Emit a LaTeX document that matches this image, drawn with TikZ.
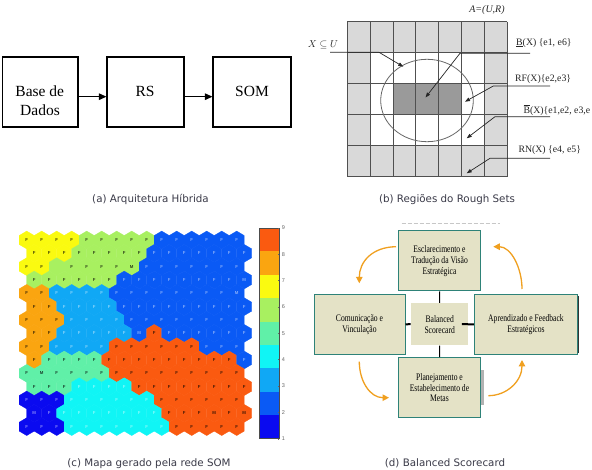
\documentclass[tikz,border=0pt]{standalone}
\usepackage{fontspec}
\usetikzlibrary{arrows.meta}
\newfontfamily\capfont{DejaVu Sans}
\newfontfamily\tnr{Liberation Serif}
\newfontfamily\tnrcond[FakeStretch=0.76]{Liberation Serif}
\newfontfamily\labfont{Liberation Sans}
\definecolor{som1}{HTML}{0A0AF0}
\definecolor{som2}{HTML}{0A5AF5}
\definecolor{som3}{HTML}{10A8F5}
\definecolor{som4}{HTML}{10F5F5}
\definecolor{som5}{HTML}{60F0A8}
\definecolor{som6}{HTML}{A8F060}
\definecolor{som7}{HTML}{FAFA10}
\definecolor{som8}{HTML}{FAA510}
\definecolor{som9}{HTML}{FA5A10}
\definecolor{capcol}{HTML}{3A3A48}
\definecolor{bscfill}{HTML}{E4E2C6}
\definecolor{bscedge}{HTML}{2E8278}
\definecolor{bscarrow}{HTML}{F0A020}
\definecolor{rsgray}{HTML}{D9D9D9}
\definecolor{rsdark}{HTML}{9A9A9A}
\definecolor{rsline}{HTML}{505050}
\tikzset{
 abox/.style={draw=black, line width=1.1pt, minimum height=70pt, inner sep=0pt},
 atext/.style={font=\tnr\fontsize{15.5}{18}\selectfont, inner sep=0pt},
 aarrow/.style={draw=black, line width=1.1pt, -{Triangle[length=7.5pt,width=6.5pt]}},
 captext/.style={font=\capfont\fontsize{10.3}{12}\selectfont, text=capcol, inner sep=0pt},
 rsgrid/.style={draw=rsline, line width=0.8pt},
 leader/.style={draw=black!85, line width=0.7pt, -{Triangle[length=5pt,width=3.6pt]}},
 rstext/.style={font=\tnr\fontsize{9.8}{11}\selectfont, inner sep=0pt, text=black!85},
 hexlab/.style={font=\labfont\bfseries\fontsize{4.3}{5}\selectfont, inner sep=0pt},
 cblab/.style={font=\labfont\fontsize{5.5}{6}\selectfont, text=black!60, inner sep=0pt, anchor=west},
 bscbox/.style={draw=bscedge, line width=1pt, fill=bscfill, minimum height=60pt, inner sep=0pt, align=center, font=\tnrcond\fontsize{10}{10.8}\selectfont},
 bscline/.style={draw=black, line width=1.1pt},
 bscarr/.style={draw=bscarrow, line width=1.3pt, -{Triangle[length=6.5pt,width=6.5pt]}},
}
\begin{document}
\begin{tikzpicture}[x=1pt,y=-1pt]
\useasboundingbox (0,0) rectangle (592,470);
\fill[white] (0,0) rectangle (592,470);

% ---------- (a) ----------
\node[abox, minimum width=75.3pt] (db) at (40.3,92) {};
\node[abox, minimum width=77pt] (rs) at (145.5,92) {};
\node[abox, minimum width=78pt] (som) at (252,92) {};
\node[atext, anchor=base] (dbt1) at (39.8,96.5) {Base de};
\node[atext, anchor=base] (dbt2) at (40,115.7) {Dados};
\node[atext, anchor=base] (rst) at (145,96.5) {RS};
\node[atext, anchor=base] (somt) at (252,96.5) {SOM};
\draw[aarrow] ([yshift=-4.7pt]db.east) -- ([yshift=-4.7pt]rs.west);
\draw[aarrow] ([yshift=-4.7pt]rs.east) -- ([yshift=-4.7pt]som.west);
\node[captext] (capa) at (150.5,199.5) {(a) Arquitetura Híbrida};

% ---------- (b) ----------
\fill[rsgray] (347.3,21.7) rectangle (507.3,176.7);
\fill[white] (370.2,52.7) rectangle (484.4,145.7);
\fill[rsdark] (392.9,83.7) rectangle (461.4,114.7);
\foreach \i in {0,...,7} \draw[rsgrid] ({347.3+22.857*\i},21.7) -- ({347.3+22.857*\i},176.7);
\foreach \j in {0,...,5} \draw[rsgrid] (347.3,{21.7+31*\j}) -- (507.3,{21.7+31*\j});
\draw[rsline, line width=1.2pt] (347.3,176.7) -- (507.3,176.7);
\draw[draw=black!60, line width=0.8pt] (427,100.5) ellipse [x radius=46.3, y radius=41.2];
\coordinate (xu1) at (330,52.3); \coordinate (xu2) at (379,52.3); \coordinate (xu3) at (403.3,66.7);
\coordinate (bl1) at (530,53.3); \coordinate (bl2) at (460,53.3); \coordinate (bl3) at (425.5,97.5);
\coordinate (rf1) at (550,86); \coordinate (rf2) at (493.3,86); \coordinate (rf3) at (465,101.7);
\coordinate (bu1) at (550,116.7); \coordinate (bu2) at (495,116.7); \coordinate (bu3) at (466.7,138.3);
\coordinate (rn1) at (550,158.3); \coordinate (rn2) at (490,158.3); \coordinate (rn3) at (466.7,173.3);
\draw[leader] (xu1) -- (xu2) -- (xu3);
\draw[leader] (bl1) -- (bl2) -- (bl3);
\draw[leader] (rf1) -- (rf2) -- (rf3);
\draw[leader] (bu1) -- (bu2) -- (bu3);
\draw[leader] (rn1) -- (rn2) -- (rn3);
\node[rstext, font=\tnr\itshape\fontsize{10}{11}\selectfont] (aur) at (487,10) {A=(U,R)};
\node[rstext, font=\fontsize{10}{11}\selectfont] (xsu) at (323,45) {$X\subseteq U$};
\node[rstext, anchor=west] (lbl) at (516,42.7) {\underline{B}(X) \{e1, e6\}};
\node[rstext, anchor=west] (rfl) at (515,79.3) {RF(X)\{e2,e3\}};
\node[rstext, anchor=west] (ubl) at (523.3,110) {$\overline{\mbox{B}}$(X)\{e1,e2, e3,e};
\node[rstext, anchor=west] (rnl) at (518.3,150) {RN(X) \{e4, e5\}};
\node[captext] (capb) at (447,200) {(b) Regiões do Rough Sets};

% ---------- (c) ----------
\foreach \row [count=\r] in {
{7/F,7/F,7/F,7/F,6/F,6/F,6/F,6/F,6/F,2/F,2/F,2/F,2/F,2/F,2/F},
{7/F,7/F,7/F,6/F,6/F,6/F,6/F,6/F,2/F,2/F,2/F,2/F,2/F,2/F,2/F},
{7/F,7/F,6/N,6/F,6/F,6/F,6/F,6/M,2/F,2/F,2/F,2/F,2/F,2/F,2/F},
{6/F,6/F,6/F,6/F,6/F,6/F,2/F,2/F,2/F,2/F,2/F,2/F,2/F,2/F,2/M},
{8/F,8/F,3/F,3/F,3/F,3/F,2/F,2/F,2/F,2/F,2/F,2/F,2/F,2/F,2/M},
{8/F,8/F,3/F,3/F,3/F,3/F,2/F,2/F,2/F,2/F,2/F,2/F,2/F,2/F,2/F},
{8/F,8/F,8/F,3/F,3/F,3/F,3/F,2/F,2/F,2/F,2/F,2/F,2/F,2/F,2/F},
{8/F,8/F,3/F,3/F,3/F,3/F,3/F,2/M,9/F,2/F,2/F,2/F,2/F,2/F,2/F},
{8/F,8/F,3/F,3/F,3/F,3/F,9/F,9/F,9/F,9/F,9/F,9/F,2/F,2/F,2/F},
{8/F,5/F,5/F,5/F,5/F,9/F,9/F,9/F,9/F,9/F,9/F,9/F,9/F,9/F,2/F},
{5/F,5/M,5/F,5/F,5/F,5/F,9/F,9/F,9/F,9/F,9/F,9/F,9/F,9/F,9/F},
{5/F,5/F,5/F,4/F,4/F,4/F,4/F,9/F,9/F,9/F,9/F,9/F,9/F,9/F,9/F},
{1/F,1/F,1/F,4/F,4/F,4/F,4/F,4/F,4/F,9/F,9/F,9/F,9/F,9/F,9/F},
{1/M,1/F,4/F,4/F,4/F,4/F,4/F,4/F,4/F,9/F,9/F,9/F,9/M,9/F,9/M},
{1/F,1/F,1/F,4/F,4/F,4/F,4/F,4/F,4/F,4/F,9/F,9/F,9/F,9/F,9/F}}{
 \foreach \k/\l [count=\c] in \row {
  \pgfmathsetmacro\hx{26.7+15*(\c-1)+7.5*(1-mod(\r,2))}
  \pgfmathsetmacro\hy{240+13.333*(\r-1)}
  \filldraw[fill=som\k, draw=som\k, line width=0.3pt, shift={(\hx,\hy)}] (0,-8.89) -- (7.5,-4.445) -- (7.5,4.445) -- (0,8.89) -- (-7.5,4.445) -- (-7.5,-4.445) -- cycle;
  \ifnum\k<5 \def\lc{white!50!som\k}\else\def\lc{black!72!som\k}\fi
  \if\l N\else \node[hexlab, text=\lc] (h\r-\c) at (\hx,\hy) {\l};\fi
 }
}
\foreach \i in {1,...,9} \fill[som\i] (259.3,{438.7-23.411*\i}) rectangle (279.3,{438.7-23.411*(\i-1)});
\draw[black!70, line width=0.5pt] (259.3,228) rectangle (279.3,438.7);
\foreach \i in {1,...,9} {
 \pgfmathsetmacro\ty{438.7-(\i-1)*26.3375}
 \draw[black!60, line width=0.4pt] (279.3,\ty) -- (277.6,\ty);
 \node[cblab] (cb\i) at (281.6,\ty) {\i};
}
\node[captext] (capc) at (149,463.3) {(c) Mapa gerado pela rede SOM};

% ---------- (d) ----------
\coordinate (dl1) at (401.7,223.3); \coordinate (dl2) at (500,223.3);
\draw[black!22, line width=1pt, dash pattern=on 4pt off 2pt] (dl1) -- (dl2);
\fill[black!30] (481.2,370) rectangle (483.6,405);
\node[bscbox, minimum width=82.4pt] (bsctop) at (439.5,261) {Esclarecimento e\\Tradução da Visão\\Estratégica};
\node[bscbox, minimum width=91pt] (bsclft) at (359.5,324.3) {Comunicação e\\Vinculação};
\node[bscbox, minimum width=103.4pt] (bscrgt) at (526,324.3) {Aprendizado e Feedback\\Estratégicos};
\node[bscbox, minimum width=82.4pt] (bscbot) at (439.5,387.7) {Planejamento e\\Estabelecimento de\\Metas};
\node[bscbox, draw=none, minimum width=57.3pt, minimum height=41.7pt] (bscctr) at (439.7,324.2) {Balanced\\Scorecard};
\draw[black!80, line width=1pt] ([yshift=-2pt]bscrgt.north east) -- ([yshift=2pt]bscrgt.south east);
\draw[bscline, line width=1pt] (bsctop.south) -- (bscctr.north);
\draw[bscline, line width=1pt] (bscctr.south) -- (bscbot.north);
\draw[bscline, line width=2pt] (bsclft.east) -- (bscctr.west);
\draw[bscline, line width=2pt] ([xshift=-7pt]bscctr.east) -- (bscrgt.west);
\coordinate (o1a) at (396,246.7); \coordinate (o1b) at (359.3,283.3);
\coordinate (o2a) at (359.3,361.7); \coordinate (o2b) at (389,397.7);
\coordinate (o3a) at (488.3,395.7); \coordinate (o3b) at (522,360);
\coordinate (o4a) at (522,289); \coordinate (o4b) at (493.3,246.7);
\draw[bscarr] (o1a) .. controls (372,247) and (359.3,262) .. (o1b);
\draw[bscarr] (o2a) .. controls (359.3,381) and (370,397.7) .. (o2b);
\draw[bscarr] (o3a) .. controls (507,395.7) and (522,381) .. (o3b);
\draw[bscarr] (o4a) .. controls (522,268) and (511,246.7) .. (o4b);
\node[captext] (capd) at (445,463.3) {(d) Balanced Scorecard};
\end{tikzpicture}
\end{document}
